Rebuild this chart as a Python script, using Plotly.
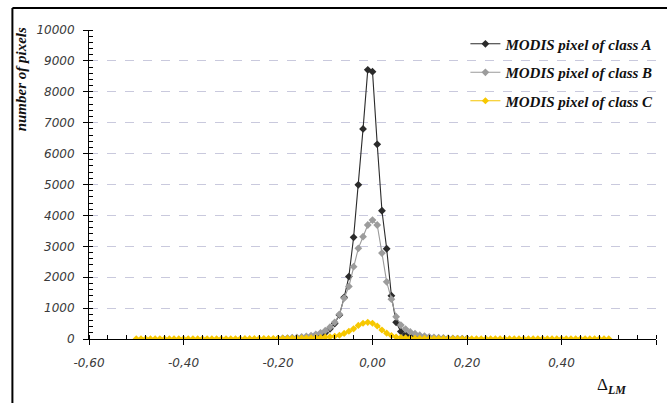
import plotly.graph_objects as go

# ---- data ----
x_ab = [round(-0.20 + 0.01 * i, 2) for i in range(41)]
x_c = [round(-0.50 + 0.01 * i, 2) for i in range(101)]

class_a = [5, 8, 12, 16, 22, 30, 40, 55, 80, 120,
           200, 330, 500, 780, 1350, 2020, 3290, 4990, 6800, 8710,
           8650, 6300, 4150, 2920, 1400, 540, 240, 130, 80, 50,
           35, 25, 18, 14, 10, 8, 6, 5, 4, 3, 2]

class_b = [15, 22, 30, 40, 50, 65, 85, 110, 150, 200,
           270, 380, 540, 800, 1320, 1700, 2340, 2935, 3310, 3690,
           3850, 3690, 2780, 1850, 1290, 720, 450, 320, 230, 170,
           125, 95, 70, 55, 42, 33, 26, 20, 15, 11, 8]

class_c = [5, 5, 5, 5, 5, 5, 5, 5, 5, 5,
           5, 5, 5, 5, 5, 5, 5, 5, 5, 5,
           8, 8, 9, 10, 10, 11, 12, 13, 14, 15,
           16, 18, 20, 22, 25, 28, 32, 36, 42, 50,
           60, 72, 90, 120, 180, 250, 330, 440, 510, 540,
           510, 420, 290, 190, 110, 65, 45, 35, 28, 24,
           20, 18, 16, 14, 13, 12, 11, 10, 10, 9,
           9, 8, 8, 8, 8, 8, 8, 8, 8, 8,
           8, 5, 5, 5, 5, 5, 5, 5, 5, 5,
           5, 5, 5, 5, 5, 5, 5, 5, 5, 5, 5]

names = ["MODIS pixel of class A", "MODIS pixel of class B", "MODIS pixel of class C"]
x_ticks = [-0.6, -0.4, -0.2, 0.0, 0.2, 0.4, 0.6]
x_ticklabels = ["-0,60", "-0,40", "-0,20", "0,00", "0,20", "0,40", "0,60"]
y_ticks = [0, 1000, 2000, 3000, 4000, 5000, 6000, 7000, 8000, 9000, 10000]
y_ticklabels = ["0", "1000", "2000", "3000", "4000", "5000", "6000", "7000", "8000", "9000", "10000"]

# ---- figure ----
W, H = 667, 403
L, R, T, B = 89, 8, 30, 64
pw, ph = W - L - R, H - T - B

def px_x(p):
    return (p - L) / pw

def px_y(p):
    return (H - B - p) / ph

fig = go.Figure()
styles = [
    dict(line=dict(color="#2b2b2b", width=1.1), marker=dict(color="#2b2b2b", size=6, symbol="diamond")),
    dict(line=dict(color="#9a9a9a", width=1.1), marker=dict(color="#9c9c9c", size=6, symbol="diamond")),
    dict(line=dict(color="#f5c400", width=1.1), marker=dict(color="#f7c800", size=5.5, symbol="diamond")),
]
for xs, ys, nm, st, g in [(x_ab, class_a, names[0], styles[0], "a"),
                          (x_ab, class_b, names[1], styles[1], "b"),
                          (x_c, class_c, names[2], styles[2], "c")]:
    fig.add_trace(go.Scatter(x=xs, y=ys, name=nm, mode="lines+markers",
                             legendgroup=g, **st))

tickfont = dict(family="Verdana, DejaVu Sans", size=12, color="#3a3a3a", style="italic")
serif = "Liberation Serif"

fig.update_layout(
    width=W, height=H,
    margin=dict(l=L, r=R, t=T, b=B),
    paper_bgcolor="white", plot_bgcolor="white",
    showlegend=True,
    legend=dict(x=1.006, xanchor="right", y=1.008, yanchor="top",
                font=dict(family=serif, size=15, color="#111111",
                          weight="bold", style="italic"),
                bgcolor="rgba(0,0,0,0)", tracegroupgap=6, traceorder="grouped",
                itemwidth=30),
)
fig.update_xaxes(
    range=[-0.6, 0.6], tickvals=x_ticks,
    ticktext=["<i>" + t + "</i>" for t in x_ticklabels],
    showgrid=False, zeroline=False, showline=True, linecolor="black", linewidth=1,
    ticks="outside", ticklen=5, tickcolor="black",
    minor=dict(dtick=0.04, tick0=-0.6, ticks="inside", ticklen=4, tickcolor="black"),
    tickfont=tickfont, ticklabelstandoff=8,
)
fig.update_yaxes(
    range=[0, 10000], tickvals=y_ticks,
    ticktext=["<i>" + t + "</i>" for t in y_ticklabels],
    showgrid=True, gridcolor="#c9c9dd", griddash="dash", gridwidth=1,
    zeroline=False, showline=True, linecolor="black", linewidth=1,
    ticks="outside", ticklen=5, tickcolor="black",
    minor=dict(dtick=200, tick0=0, ticks="inside", ticklen=4, tickcolor="black", showgrid=False),
    tickfont=tickfont, ticklabelstandoff=6,
)

fig.add_annotation(
    text="<b><i>number of pixels</i></b>", textangle=-90, showarrow=False,
    xref="paper", yref="paper", x=px_x(21), y=px_y(79),
    xanchor="center", yanchor="middle",
    font=dict(family=serif, size=15, color="#111111"),
)
fig.add_annotation(
    text="Δ<sub><b><i>LM</i></b></sub>", showarrow=False,
    xref="paper", yref="paper", x=px_x(614), y=px_y(386),
    xanchor="center", yanchor="middle",
    font=dict(family=serif, size=17, color="#111111"),
)

# outer frame (left and top edges visible)
fig.add_shape(type="line", xref="paper", yref="paper",
              x0=px_x(12), x1=px_x(12), y0=px_y(8), y1=px_y(410),
              line=dict(color="black", width=2))
fig.add_shape(type="line", xref="paper", yref="paper",
              x0=px_x(12), x1=px_x(675), y0=px_y(8), y1=px_y(8),
              line=dict(color="black", width=2))

fig.write_html("out.html")
